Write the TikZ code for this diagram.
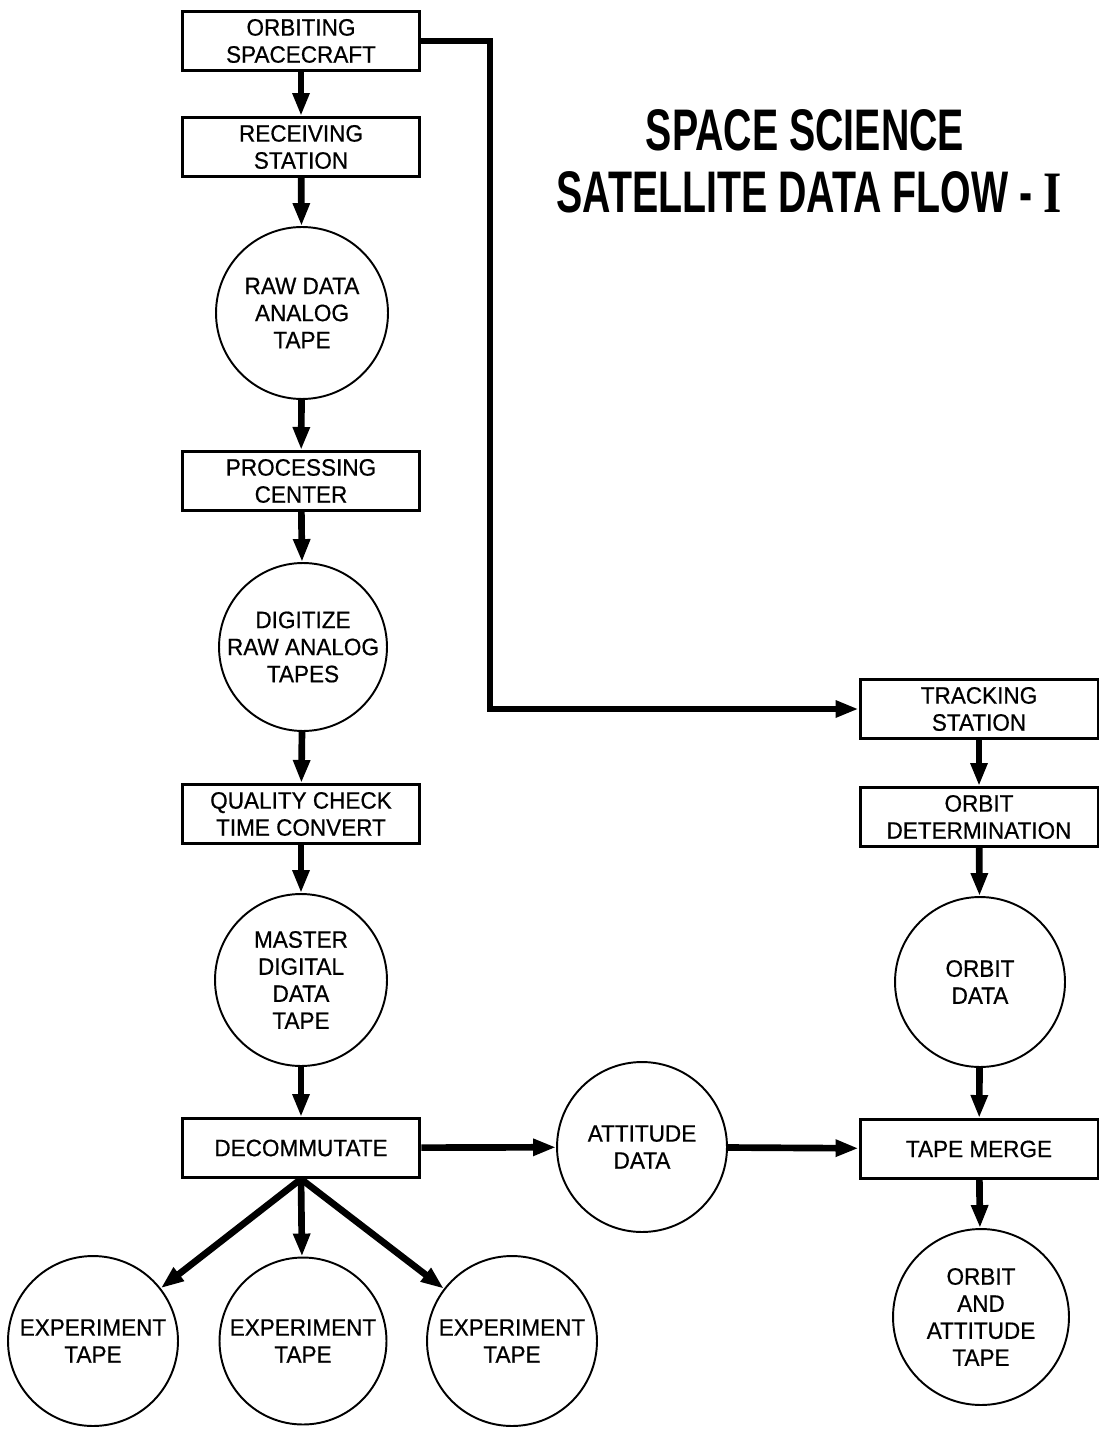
\documentclass[tikz,border=0pt]{standalone}
\usepackage{fontspec}
\setmainfont{Liberation Sans}
\newfontfamily\lblfont[FakeStretch=0.95,FakeBold=0.6]{Liberation Sans}
\newfontfamily\ttlfont[FakeStretch=0.67]{Liberation Sans}
\newfontfamily\ttlserif[FakeStretch=0.8]{Liberation Serif}
\usetikzlibrary{arrows.meta,shapes.geometric}
\begin{document}
\begin{tikzpicture}[x=0.02cm,y=-0.02cm,
  box/.style={draw, line width=1.7pt, minimum width=4.76cm, minimum height=1.18cm,
    inner sep=0pt, align=center, font={\lblfont\fontsize{13.5pt}{15.4pt}\selectfont}},
  tape/.style={draw, circle, line width=1.1pt, inner sep=0pt},
  lbl/.style={inner sep=0pt, align=center, font={\lblfont\fontsize{13.5pt}{15.4pt}\selectfont}},
  ttl/.style={inner sep=0pt, font={\ttlfont\bfseries\fontsize{33.4pt}{36pt}\selectfont}},
  arr/.style={line width=3.8pt, -{Triangle[length=0.46cm,width=0.32cm]}}
]
\useasboundingbox (0,0) rectangle (1102,1435);
\fill[white] (0,0) rectangle (1102,1435);

% title
\node[ttl] (t1) at (805,130) {SPACE SCIENCE};
\node[ttl] (t2) at (809,192) {SATELLITE DATA FLOW - {\ttlserif\bfseries I}};

% left column
\node[box] (orb) at (301,41) {ORBITING\\SPACECRAFT};
\node[box] (rec) at (301,147) {RECEIVING\\STATION};
\node[tape, minimum size=3.44cm] (raw) at (302,313) {};
\node[lbl] (rawt) at (raw) {RAW DATA\\ANALOG\\TAPE};
\node[box] (proc) at (301,481) {PROCESSING\\CENTER};
\node[tape, minimum size=3.36cm] (dig) at (303,647) {};
\node[lbl] (digt) at (dig) {DIGITIZE\\RAW ANALOG\\TAPES};
\node[box] (qc) at (301,814) {QUALITY CHECK\\TIME CONVERT};
\node[tape, minimum size=3.44cm] (mast) at (301,980) {};
\node[lbl] (mastt) at (mast) {MASTER\\DIGITAL\\DATA\\TAPE};
\node[box] (dec) at (301,1148) {DECOMMUTATE};

% experiment tapes
\node[tape, minimum size=3.4cm] (e1) at (93,1341) {};
\node[lbl] (e1t) at (e1) {EXPERIMENT\\TAPE};
\node[tape, minimum size=3.34cm] (e2) at (303,1341) {};
\node[lbl] (e2t) at (e2) {EXPERIMENT\\TAPE};
\node[tape, minimum size=3.4cm] (e3) at (512,1341) {};
\node[lbl] (e3t) at (e3) {EXPERIMENT\\TAPE};

% attitude
\node[tape, minimum size=3.4cm] (att) at (642,1147) {};
\node[lbl] (attt) at (att) {ATTITUDE\\DATA};

% right column
\node[box] (trk) at (979,709) {TRACKING\\STATION};
\node[box] (odet) at (979,817) {ORBIT\\DETERMINATION};
\node[tape, minimum size=3.4cm] (odata) at (980,982) {};
\node[lbl] (odatat) at (odata) {ORBIT\\DATA};
\node[box] (merge) at (979,1149) {TAPE MERGE};
\node[tape, minimum size=3.52cm] (oat) at (981,1317) {};
\node[lbl] (oatt) at (oat) {ORBIT\\AND\\ATTITUDE\\TAPE};

% connectors
\draw[arr] (orb) -- (rec);
\draw[arr] (rec) -- (raw);
\draw[arr] (raw) -- (proc);
\draw[arr] (proc) -- (dig);
\draw[arr] (dig) -- (qc);
\draw[arr] (qc) -- (mast);
\draw[arr] (mast) -- (dec);
\draw[arr] (dec.south) -- (e1);
\draw[arr] (dec.south) -- (e2);
\draw[arr] (dec.south) -- (e3);
\draw[arr] (dec) -- (att);
\draw[arr] (att) -- (merge);

\coordinate (b1) at (490,41);
\coordinate (b2) at (490,709);
\draw[arr] (orb.east) -- (b1) -- (b2) -- (trk.west);
\draw[arr] (trk) -- (odet);
\draw[arr] (odet) -- (odata);
\draw[arr] (odata) -- (merge);
\draw[arr] (merge) -- (oat);
\end{tikzpicture}
\end{document}
